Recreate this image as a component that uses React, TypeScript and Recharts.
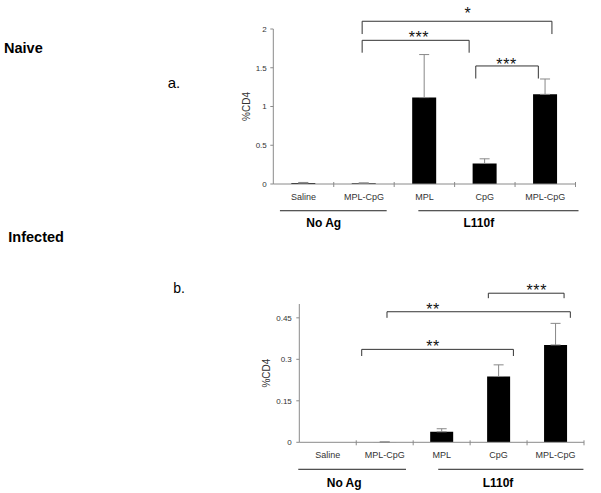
import { Bar, BarChart, ErrorBar, ReferenceDot, ReferenceLine, XAxis, YAxis } from "recharts";

const CATEGORY_IDS = ["saline", "noag-mplcpg", "mpl", "cpg", "l110f-mplcpg"];
const CATEGORY_LABELS = ["Saline", "MPL-CpG", "MPL", "CpG", "MPL-CpG"];
const GROUP_LABELS = ["No Ag", "L110f"];

// a. Naive (%CD4)
const NAIVE_MEAN = [0.012, 0.01, 1.115, 0.265, 1.157];
const NAIVE_ERR = [0.008, 0.004, 0.555, 0.06, 0.198];
const NAIVE_TICKS = [0, 0.5, 1, 1.5, 2];

// b. Infected (%CD4)
const INFECTED_MEAN = [0, 0.001, 0.038, 0.238, 0.352];
const INFECTED_ERR = [0, 0, 0.011, 0.042, 0.078];
const INFECTED_TICKS = [0, 0.15, 0.3, 0.45];

// significance brackets, x in category units (0..5 across the plot)
const NAIVE_BRACKETS = [
  { from: 1.47, to: 4.61, top: 2.1, bottom: 1.935, stars: "*", at: 3.22, starY: 2.255 },
  { from: 1.47, to: 3.24, top: 1.854, bottom: 1.694, stars: "***", at: 2.41, starY: 1.945 },
  { from: 3.35, to: 4.385, top: 1.523, bottom: 1.361, stars: "***", at: 3.86, starY: 1.6 },
];
const INFECTED_BRACKETS = [
  { from: 3.32, to: 4.65, top: 0.539, bottom: 0.521, stars: "***", at: 4.17, starY: 0.5626 },
  { from: 1.54, to: 4.76, top: 0.472, bottom: 0.45, stars: "**", at: 2.35, starY: 0.4964 },
  { from: 1.096, to: 3.76, top: 0.336, bottom: 0.312, stars: "**", at: 2.35, starY: 0.361 },
];

// group underlines under the category labels
const NAIVE_GROUP_SPANS = [[0.11, 1.876], [2.4, 5.05]];
const NAIVE_GROUP_AT = [0.834, 3.4];
const INFECTED_GROUP_SPANS = [[-0.018, 1.874], [2.44, 4.99]];
const INFECTED_GROUP_AT = [0.788, 3.49];

const AXIS = "#8a8a8a";
const INK = "#333";
const FONT = "'Liberation Sans', Arial, sans-serif";

function rows(mean: number[], err: number[]) {
  return CATEGORY_IDS.map((id, i) => ({
    id,
    pos: i + 0.5,
    value: mean[i],
    err: [0, err[i]],
  }));
}

function CatTick(props: any) {
  const { x, y, payload, index } = props;
  const half = payload?.offset ?? 0;
  return (
    <g>
      {index < CATEGORY_IDS.length && (
        <line x1={x + half} x2={x + half} y1={y - 2} y2={y + 3} stroke={AXIS} />
      )}
      <text x={x} y={y + 15.8} textAnchor="middle" fontSize={9} fill={INK} fontFamily={FONT}>
        {CATEGORY_LABELS[index]}
      </text>
    </g>
  );
}

interface PanelProps {
  mean: number[];
  err: number[];
  ticks: number[];
  domainMax: number;
  brackets: typeof NAIVE_BRACKETS;
  spans: number[][];
  groupAt: number[];
  lineY: number;
  groupY: number;
  width: number;
  height: number;
  margin: { top: number; right: number; bottom: number; left: number };
  yWidth: number;
  barSize: number;
  labelOffset: number;
  tickMargin: number;
}

function Panel(p: PanelProps) {
  return (
    <BarChart width={p.width} height={p.height} data={rows(p.mean, p.err)} margin={p.margin}>
      <XAxis
        dataKey="id"
        interval={0}
        height={20}
        tickLine={false}
        tickSize={0}
        tickMargin={0}
        axisLine={{ stroke: AXIS }}
        tick={(t: any) => <CatTick {...t} />}
      />
      <XAxis xAxisId="pos" dataKey="pos" type="number" domain={[0, 5]} allowDataOverflow hide />
      <YAxis
        domain={[0, p.domainMax]}
        ticks={p.ticks}
        interval={0}
        width={p.yWidth}
        allowDataOverflow
        tickSize={3}
        tickMargin={p.tickMargin}
        axisLine={{ stroke: AXIS }}
        tickLine={{ stroke: AXIS }}
        tick={{ fill: INK, fontSize: 8, fontFamily: FONT }}
        label={{
          value: "%CD4",
          angle: -90,
          position: "insideLeft",
          offset: p.labelOffset,
          style: { textAnchor: "middle", fontSize: 10, fill: INK, fontFamily: FONT },
        }}
      />
      <Bar dataKey="value" fill="#000" barSize={p.barSize} isAnimationActive={false}>
        <ErrorBar dataKey="err" direction="y" width={5} stroke="#888" strokeWidth={1} />
      </Bar>
      {p.brackets.flatMap((b, i) => [
        <ReferenceLine
          key={`h${i}`}
          xAxisId="pos"
          ifOverflow="visible"
          stroke={INK}
          segment={[{ x: b.from, y: b.top }, { x: b.to, y: b.top }]}
        />,
        <ReferenceLine
          key={`l${i}`}
          xAxisId="pos"
          ifOverflow="visible"
          stroke={INK}
          segment={[{ x: b.from, y: b.top }, { x: b.from, y: b.bottom }]}
        />,
        <ReferenceLine
          key={`r${i}`}
          xAxisId="pos"
          ifOverflow="visible"
          stroke={INK}
          segment={[{ x: b.to, y: b.top }, { x: b.to, y: b.bottom }]}
        />,
        <ReferenceDot
          key={`s${i}`}
          xAxisId="pos"
          x={b.at}
          y={b.starY}
          r={0}
          ifOverflow="visible"
          shape={(d: any) => (
            <text
              x={d.cx}
              y={d.cy}
              dy="0.6em"
              textAnchor="middle"
              fontSize={16}
              letterSpacing={0.6}
              fill="#111"
              fontFamily={FONT}
            >
              {b.stars}
            </text>
          )}
        />,
      ])}
      {p.spans.map((s, i) => (
        <ReferenceLine
          key={`g${i}`}
          xAxisId="pos"
          ifOverflow="visible"
          stroke="#222"
          segment={[{ x: s[0], y: p.lineY }, { x: s[1], y: p.lineY }]}
        />
      ))}
      {GROUP_LABELS.map((g, i) => (
        <ReferenceDot
          key={`gl${i}`}
          xAxisId="pos"
          x={p.groupAt[i]}
          y={p.groupY}
          r={0}
          ifOverflow="visible"
          shape={(d: any) => (
            <text
              x={d.cx}
              y={d.cy}
              textAnchor="middle"
              fontSize={12}
              fontWeight="bold"
              fill="#000"
              fontFamily={FONT}
            >
              {g}
            </text>
          )}
        />
      ))}
    </BarChart>
  );
}

export default function App() {
  return (
    <div
      style={{
        position: "absolute",
        left: 0,
        top: 0,
        width: 601,
        height: 493,
        background: "#fff",
        fontFamily: FONT,
        overflow: "hidden",
      }}
    >
      <div style={{ position: "absolute", left: 0, top: 0 }}>
        <Panel
          mean={NAIVE_MEAN}
          err={NAIVE_ERR}
          ticks={NAIVE_TICKS}
          domainMax={2}
          brackets={NAIVE_BRACKETS}
          spans={NAIVE_GROUP_SPANS}
          groupAt={NAIVE_GROUP_AT}
          lineY={-0.345}
          groupY={-0.551}
          width={601}
          height={240}
          margin={{ top: 29, right: 25.5, bottom: 36, left: 243.3 }}
          yWidth={30}
          barSize={24}
          labelOffset={3}
          tickMargin={3.5}
        />
      </div>
      <div style={{ position: "absolute", left: 0, top: 250 }}>
        <Panel
          mean={INFECTED_MEAN}
          err={INFECTED_ERR}
          ticks={INFECTED_TICKS}
          domainMax={0.5}
          brackets={INFECTED_BRACKETS}
          spans={INFECTED_GROUP_SPANS}
          groupAt={INFECTED_GROUP_AT}
          lineY={-0.0976}
          groupY={-0.161}
          width={601}
          height={243}
          margin={{ top: 54, right: 17, bottom: 30.7, left: 264.3 }}
          yWidth={35}
          barSize={23}
          labelOffset={2}
          tickMargin={4.5}
        />
      </div>
      <svg
        width={601}
        height={493}
        style={{ position: "absolute", left: 0, top: 0, pointerEvents: "none" }}
      >
        <text x={4} y={52.7} fontSize={14.5} fontWeight="bold" fill="#000" fontFamily={FONT}>
          Naive
        </text>
        <text x={167.7} y={88.3} fontSize={15} fill="#000" fontFamily={FONT}>
          a.
        </text>
        <text x={8.3} y={241.7} fontSize={14.5} fontWeight="bold" fill="#000" fontFamily={FONT}>
          Infected
        </text>
        <text x={173.3} y={293.3} fontSize={14} fill="#000" fontFamily={FONT}>
          b.
        </text>
      </svg>
    </div>
  );
}
